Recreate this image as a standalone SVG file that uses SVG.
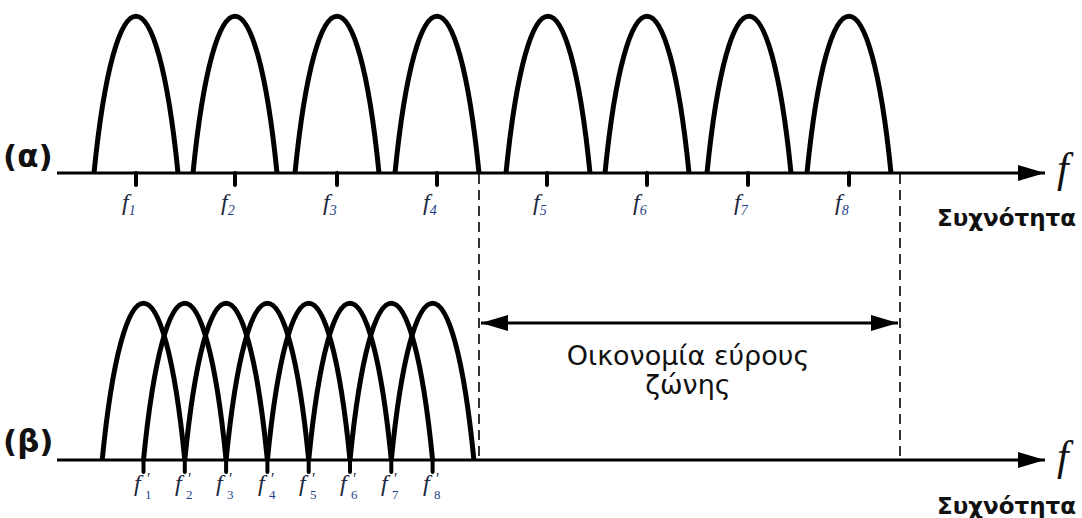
<svg xmlns="http://www.w3.org/2000/svg" width="1082" height="518" viewBox="0 0 1082 518">
<defs>
<style>
.arch{fill:none;stroke:#000;stroke-width:5;stroke-linejoin:round}
.axis{fill:none;stroke:#000;stroke-width:3}
.tick{stroke:#000;stroke-width:4;stroke-linecap:round}
.dash{fill:none;stroke:#000;stroke-width:1.6;stroke-dasharray:10,6}
.lbl{font-family:"Liberation Serif",serif;font-style:italic;font-size:24px;fill:#1e2640}
.sub{font-family:"Liberation Serif",serif;font-size:14px;fill:#1f3f8a}
.sb{font-family:"Liberation Serif",serif;font-size:13px;fill:#1f3f8a}
.pr{font-family:"Liberation Serif",serif;font-size:16px;fill:#1e2640}
.big{font-family:"Liberation Serif",serif;font-style:italic;font-size:42px;fill:#111}
.hz{font-family:"DejaVu Sans",sans-serif;font-weight:bold;font-size:23px;fill:#111}
.tag{font-family:"DejaVu Sans",sans-serif;font-weight:bold;font-size:31px;fill:#111}
.txt{font-family:"DejaVu Sans",sans-serif;font-size:27px;fill:#111}
</style>
<marker id="ah" markerWidth="27" markerHeight="16" refX="27" refY="8" orient="auto" markerUnits="userSpaceOnUse">
<path d="M0,0 L27,8 L0,16 Z" fill="#000"/>
</marker>
<marker id="ahs" markerWidth="27" markerHeight="16" refX="0" refY="8" orient="auto" markerUnits="userSpaceOnUse">
<path d="M0,8 L27,0 L27,16 Z" fill="#000"/>
</marker>
</defs>

<g id="panel-a">
<g id="label-a"><text class="tag" x="3" y="167">(α)</text></g>
<g id="arches-a">
<path class="arch" d="M94,173 C115,-36 157,-36 178,173"/>
<path class="arch" d="M193,173 C214,-36 256,-36 277,173"/>
<path class="arch" d="M295,173 C316,-36 358,-36 379,173"/>
<path class="arch" d="M395,173 C416,-36 458,-36 479,173"/>
<path class="arch" d="M506,173 C527,-36 569,-36 590,173"/>
<path class="arch" d="M605,173 C626,-36 668,-36 689,173"/>
<path class="arch" d="M707,173 C728,-36 770,-36 791,173"/>
<path class="arch" d="M807,173 C828,-36 870,-36 891,173"/>
</g>
<g id="ticks-a">
<line class="tick" x1="136" y1="173" x2="136" y2="185"/>
<line class="tick" x1="235" y1="173" x2="235" y2="185"/>
<line class="tick" x1="337" y1="173" x2="337" y2="185"/>
<line class="tick" x1="437" y1="173" x2="437" y2="185"/>
<line class="tick" x1="547" y1="173" x2="547" y2="185"/>
<line class="tick" x1="647" y1="173" x2="647" y2="185"/>
<line class="tick" x1="748" y1="173" x2="748" y2="185"/>
<line class="tick" x1="849" y1="173" x2="849" y2="185"/>
</g>
<g id="labels-a">
<text class="lbl" x="122" y="210">f<tspan class="sub" dy="5">1</tspan></text>
<text class="lbl" x="221" y="210">f<tspan class="sub" dy="5">2</tspan></text>
<text class="lbl" x="323" y="210">f<tspan class="sub" dy="5">3</tspan></text>
<text class="lbl" x="423" y="210">f<tspan class="sub" dy="5">4</tspan></text>
<text class="lbl" x="533" y="210">f<tspan class="sub" dy="5">5</tspan></text>
<text class="lbl" x="633" y="210">f<tspan class="sub" dy="5">6</tspan></text>
<text class="lbl" x="734" y="210">f<tspan class="sub" dy="5">7</tspan></text>
<text class="lbl" x="835" y="210">f<tspan class="sub" dy="5">8</tspan></text>
</g>
<g id="axis-label-a">
<text class="big" x="1057" y="182">f</text>
<text class="hz" x="937" y="226">Συχνότητα</text>
</g>
</g>

<g id="panel-b">
<g id="label-b"><text class="tag" x="3" y="452">(β)</text></g>
<g id="arches-b">
<path class="arch" d="M102.2,460 C122.85,251 164.15,251 184.8,460"/>
<path class="arch" d="M143.5,460 C164.15,251 205.45,251 226.1,460"/>
<path class="arch" d="M184.8,460 C205.45,251 246.75,251 267.4,460"/>
<path class="arch" d="M226.1,460 C246.75,251 288.05,251 308.7,460"/>
<path class="arch" d="M267.4,460 C288.05,251 329.35,251 350,460"/>
<path class="arch" d="M308.7,460 C329.35,251 370.65,251 391.3,460"/>
<path class="arch" d="M350,460 C370.65,251 411.95,251 432.6,460"/>
<path class="arch" d="M391.3,460 C411.95,251 453.25,251 473.9,460"/>
</g>
<g id="ticks-b">
<line class="tick" x1="143.5" y1="460" x2="143.5" y2="472"/>
<line class="tick" x1="184.8" y1="460" x2="184.8" y2="472"/>
<line class="tick" x1="226.1" y1="460" x2="226.1" y2="472"/>
<line class="tick" x1="267.4" y1="460" x2="267.4" y2="472"/>
<line class="tick" x1="308.7" y1="460" x2="308.7" y2="472"/>
<line class="tick" x1="350" y1="460" x2="350" y2="472"/>
<line class="tick" x1="391.3" y1="460" x2="391.3" y2="472"/>
<line class="tick" x1="432.6" y1="460" x2="432.6" y2="472"/>
</g>
<g id="labels-b">
<text class="lbl" x="134" y="491">f</text><text class="pr" x="147" y="484">′</text><text class="sb" x="145" y="499">1</text>
<text class="lbl" x="175" y="491">f</text><text class="pr" x="188" y="484">′</text><text class="sb" x="186" y="499">2</text>
<text class="lbl" x="216" y="491">f</text><text class="pr" x="229" y="484">′</text><text class="sb" x="227" y="499">3</text>
<text class="lbl" x="258" y="491">f</text><text class="pr" x="271" y="484">′</text><text class="sb" x="269" y="499">4</text>
<text class="lbl" x="299" y="491">f</text><text class="pr" x="312" y="484">′</text><text class="sb" x="310" y="499">5</text>
<text class="lbl" x="340" y="491">f</text><text class="pr" x="353" y="484">′</text><text class="sb" x="351" y="499">6</text>
<text class="lbl" x="381" y="491">f</text><text class="pr" x="394" y="484">′</text><text class="sb" x="392" y="499">7</text>
<text class="lbl" x="423" y="491">f</text><text class="pr" x="436" y="484">′</text><text class="sb" x="434" y="499">8</text>
</g>
<g id="axis-label-b">
<text class="big" x="1057" y="470">f</text>
<text class="hz" x="937" y="514">Συχνότητα</text>
</g>
<g id="savings-label">
<text class="txt" x="688" y="365" text-anchor="middle">Οικονομία εύρους</text>
<text class="txt" x="688" y="394" text-anchor="middle">ζώνης</text>
</g>
</g>

<g id="connectors">
<line class="axis" x1="57" y1="173" x2="1045" y2="173" marker-end="url(#ah)"/>
<line class="axis" x1="57" y1="460" x2="1045" y2="460" marker-end="url(#ah)"/>
<line class="dash" x1="479" y1="174" x2="479" y2="460"/>
<line class="dash" x1="900" y1="174" x2="900" y2="460"/>
<line class="axis" x1="481" y1="323" x2="898" y2="323" marker-start="url(#ahs)" marker-end="url(#ah)"/>
</g>
</svg>
